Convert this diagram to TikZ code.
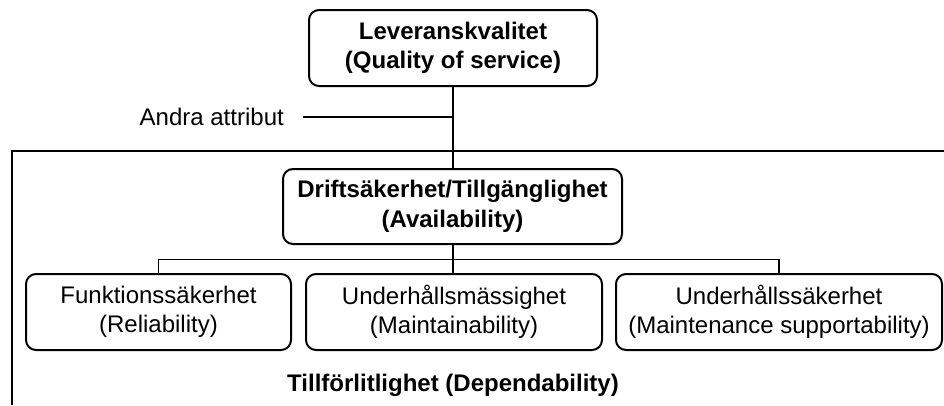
\documentclass[tikz,border=0pt]{standalone}
\usepackage{fontspec}
\setmainfont{Liberation Sans}
\begin{document}
\begin{tikzpicture}[x=1pt,y=-1pt,
  txt/.style={font=\fontsize{24}{29.5}\selectfont, align=center, inner sep=2pt},
  box/.style={txt, draw, line width=2pt, rounded corners=10pt},
  thick link/.style={line width=2pt},
  thin link/.style={line width=1.2pt}]
  \useasboundingbox (0,0) rectangle (944,405);

  % enclosing frame (top and left edges)
  \draw[line width=2pt] (12,405) -- (12,151) -- (944,151);

  % boxes
  \node[box, minimum width=288pt, minimum height=76pt] (qos) at (453,48)
    {\bfseries Leveranskvalitet\\\bfseries (Quality of service)};
  \node[box, minimum width=339pt, minimum height=75pt] (avail) at (452.5,206.5)
    {\bfseries Driftsäkerhet/Tillgänglighet\\\bfseries (Availability)};
  \node[box, minimum width=265pt, minimum height=76pt] (rel) at (158.5,312)
    {Funktionssäkerhet\\(Reliability)};
  \node[box, minimum width=296pt, minimum height=76pt] (maint) at (454,312)
    {Underhållsmässighet\\(Maintainability)};
  \node[box, minimum width=326pt, minimum height=76pt] (supp) at (779,312)
    {Underhållssäkerhet\\(Maintenance supportability)};

  % labels
  \node[txt, anchor=east] (other) at (286,117) {Andra attribut};
  \node[txt, font=\fontsize{24}{29.5}\selectfont\bfseries] (dep) at (453,385)
    {Tillförlitlighet (Dependability)};

  % connectors
  \coordinate (otherend) at (303,117);
  \coordinate (bar) at (453,259.5);
  \draw[thick link] (qos.south) -- (qos.south |- avail.north);
  \draw[thick link] (otherend) -- (qos.south |- otherend);
  \draw[thick link] (maint.north -| avail.south) -- (avail.south);
  \draw[thin link] (rel.north) -- (rel.north |- bar) -- (supp.north |- bar) -- (supp.north);
\end{tikzpicture}
\end{document}
